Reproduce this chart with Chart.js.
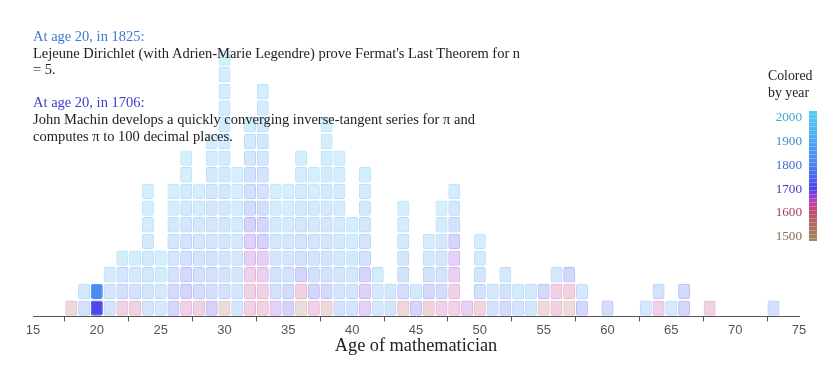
<!DOCTYPE html>
<html>
<head>
<meta charset="utf-8">
<script src="https://cdn.jsdelivr.net/npm/chart.js@4"></script>
<style>
  body { margin: 0; background: #fff; }
  #wrap { position: relative; width: 839px; height: 373px; }
  #notes {
    position: absolute; left: 33px; top: 28px;
    font: 14.5px "Liberation Serif", serif; line-height: 16.6px; color: #222;
    white-space: nowrap;
  }
  #legend-title {
    position: absolute; left: 768px; top: 67px;
    font: 13.8px "Liberation Serif", serif; line-height: 17px; color: #222;
  }
  .yr {
    position: absolute; right: 37px; width: 40px; text-align: right;
    font: 13.2px "Liberation Serif", serif; line-height: 16px;
  }
  #bar {
    position: absolute; left: 809px; top: 111px; width: 8px; height: 130px;
  }
</style>
</head>
<body>
<div id="wrap">
  <canvas id="myChart" width="839" height="373"></canvas>
  <div id="notes"></div>
  <div id="legend-title">Colored<br>by year</div>
  <div id="bar"></div>
</div>
<script>
// ages that have at least one result, and the years of those results (bottom to top)
const ages = [18, 19, 20, 21, 22, 23, 24, 25, 26, 27, 28, 29, 30, 31, 32, 33, 34, 35, 36, 37, 38,
  39, 40, 41, 42, 43, 44, 45, 46, 47, 48, 49, 50, 51, 52, 53, 54, 55, 56, 57, 58, 60, 63, 64, 65,
  66, 68, 73];
const yearsByAge = [
  [1572],
  [1812, 1898],
  [1706, 1825],
  [1822, 1848, 1921],
  [1628, 1786, 1852, 1934],
  [1619, 1817, 1893, 1931],
  [1829, 1847, 1862, 1881, 1905, 1928, 1951, 1985],
  [1884, 1893, 1912, 1944],
  [1731, 1762, 1818, 1839, 1864, 1902, 1936, 1967],
  [1641, 1718, 1742, 1791, 1832, 1858, 1883, 1912, 1945, 1978],
  [1622, 1771, 1799, 1833, 1868, 1897, 1931, 1962],
  [1697, 1788, 1794, 1819, 1838, 1849, 1862, 1877, 1908, 1939, 1971],
  [1541, 1806, 1822, 1835, 1841, 1856, 1867, 1873, 1888, 1894, 1905, 1912, 1927, 1938, 1955, 1978],
  [1851, 1868, 1879, 1886, 1901, 1915, 1933, 1952, 1981],
  [1617, 1629, 1643, 1662, 1678, 1712, 1758, 1796, 1823, 1854, 1889, 1937],
  [1612, 1632, 1651, 1663, 1704, 1728, 1786, 1811, 1836, 1859, 1874, 1899, 1926, 1962],
  [1668, 1797, 1826, 1848, 1871, 1903, 1938, 1969],
  [1709, 1759, 1815, 1842, 1873, 1909, 1944, 1976],
  [1539, 1621, 1719, 1797, 1828, 1852, 1878, 1906, 1934, 1968],
  [1638, 1722, 1803, 1829, 1855, 1881, 1912, 1947, 1983],
  [1561, 1748, 1802, 1821, 1846, 1866, 1884, 1898, 1915, 1932, 1955, 1981],
  [1818, 1834, 1853, 1869, 1885, 1902, 1919, 1941, 1962, 1987],
  [1831, 1847, 1872, 1903, 1929, 1965],
  [1668, 1681, 1723, 1809, 1836, 1862, 1894, 1931, 1968],
  [1872, 1881, 1908],
  [1834, 1857],
  [1583, 1776, 1812, 1851, 1887, 1926, 1963],
  [1721, 1897],
  [1592, 1741, 1803, 1887, 1942],
  [1641, 1768, 1813, 1846, 1901, 1934, 1972],
  [1618, 1642, 1659, 1671, 1719, 1823, 1868, 1931],
  [1661],
  [1588, 1801, 1849, 1912, 1954],
  [1822, 1881],
  [1761, 1819, 1903],
  [1829, 1898],
  [1852, 1889],
  [1553, 1742],
  [1622, 1634, 1902],
  [1541, 1612, 1731],
  [1739, 1884],
  [1762],
  [1893],
  [1629, 1821],
  [1901],
  [1719, 1752],
  [1621],
  [1801]
];

// highlighted results (age 20)
const highlightAge = 20;
const highlightYears = [1825, 1706];
const highlightTexts = [
  "Lejeune Dirichlet (with Adrien-Marie Legendre) prove Fermat's Last Theorem for n<br>= 5.",
  "John Machin develops a quickly converging inverse-tangent series for π and<br>computes π to 100 decimal places."
];

const xTicks = [15, 20, 25, 30, 35, 40, 45, 50, 55, 60, 65, 70, 75];
const legendYears = [2000, 1900, 1800, 1700, 1600, 1500];

// year -> colour scale
const stopYears = [1480, 1500, 1550, 1600, 1640, 1670, 1700, 1750, 1800, 1850, 1900, 1950, 2000, 2030];
const stopColors = ["#a6865c", "#a3805c", "#b06a5e", "#c24870", "#c040a6", "#8a40dc", "#4a44ea",
  "#4a64f0", "#4a82f2", "#4a96f2", "#4aa8f2", "#4cb8f2", "#50c6f4", "#52ccf4"];

function hexToRgb(h) {
  return [parseInt(h.slice(1, 3), 16), parseInt(h.slice(3, 5), 16), parseInt(h.slice(5, 7), 16)];
}

function yearColor(year, alpha) {
  let i = 0;
  while (i < stopYears.length - 2 && year > stopYears[i + 1]) i++;
  const t = Math.max(0, Math.min(1, (year - stopYears[i]) / (stopYears[i + 1] - stopYears[i])));
  const a = hexToRgb(stopColors[i]);
  const b = hexToRgb(stopColors[i + 1]);
  const c = a.map((v, j) => Math.round(v + (b[j] - v) * t));
  return `rgba(${c[0]}, ${c[1]}, ${c[2]}, ${alpha})`;
}

// text colour: same hue, a little darker (like the legend labels)
function textColor(year) {
  return yearColor(year, 1).replace(/rgba\((\d+), (\d+), (\d+), 1\)/, (m, r, g, b) =>
    `rgb(${Math.round(r * 0.85)}, ${Math.round(g * 0.85)}, ${Math.round(b * 0.85)})`);
}

function isHighlight(cell) {
  return cell.x === highlightAge && highlightYears.includes(cell.year);
}

// one floating bar per result, stacked by hand inside its age column
const cells = [];
ages.forEach((age, i) => {
  yearsByAge[i].forEach((year, k) => {
    cells.push({ x: age, y: [k + 0.04, k + 0.96], year: year });
  });
});

// annotation texts
const notes = document.getElementById("notes");
notes.innerHTML = highlightYears
  .map((yr, i) =>
    `<span style="color:${textColor(yr)}">At age ${highlightAge}, in ${yr}:</span><br>${highlightTexts[i]}`)
  .join("<br><br>");

// colour legend
const wrap = document.getElementById("wrap");
const pxPerYear = 0.2384;
legendYears.forEach((yr) => {
  const d = document.createElement("div");
  d.className = "yr";
  d.textContent = yr;
  d.style.color = textColor(yr);
  d.style.top = (117 + (2000 - yr) * pxPerYear - 8) + "px";
  wrap.appendChild(d);
});
const barTopYear = 2000 + 6 / pxPerYear;
const barBottomYear = barTopYear - 130 / pxPerYear;
const gradStops = [];
for (let i = stopYears.length - 1; i >= 0; i--) {
  const pct = ((barTopYear - stopYears[i]) / (barTopYear - barBottomYear)) * 100;
  gradStops.push(`${stopColors[i]} ${pct.toFixed(1)}%`);
}
document.getElementById("bar").style.background =
  "repeating-linear-gradient(to bottom, rgba(255,255,255,0) 0px, rgba(255,255,255,0) 3px, rgba(255,255,255,0.25) 3px, rgba(255,255,255,0.25) 4px), " +
  `linear-gradient(to bottom, ${gradStops.join(", ")})`;

const config = {
  type: "bar",
  data: {
    datasets: [
      {
        data: cells,
        backgroundColor: (ctx) => isHighlight(ctx.raw) ? yearColor(ctx.raw.year, 1) : yearColor(ctx.raw.year, 0.24),
        borderColor: (ctx) => isHighlight(ctx.raw) ? yearColor(ctx.raw.year, 1) : yearColor(ctx.raw.year, 0.4),
        borderWidth: 1,
        borderRadius: 2,
        borderSkipped: false,
        barThickness: 12,
        inflateAmount: 0,
      },
    ],
  },
  options: {
    responsive: false,
    animation: false,
    layout: {
      padding: { left: 33, right: 40, top: 33, bottom: 5 },
    },
    plugins: {
      legend: { display: false },
      tooltip: { enabled: false },
    },
    scales: {
      x: {
        type: "linear",
        min: xTicks[0],
        max: xTicks[xTicks.length - 1],
        offset: false,
        afterBuildTicks: (axis) => {
          axis.ticks = xTicks.map((v) => ({ value: v }));
        },
        ticks: {
          color: "#555",
          padding: 1,
          font: { family: "Liberation Sans", size: 13 },
        },
        grid: {
          drawOnChartArea: false,
          tickLength: 5,
          color: "#555",
        },
        border: { color: "#555" },
        title: {
          display: true,
          text: "Age of mathematician",
          color: "#222",
          font: { family: "Liberation Serif", size: 18.3 },
          padding: { top: -4, bottom: 11 },
        },
      },
      y: {
        display: false,
        min: 0,
        max: 17,
      },
    },
  },
};

new Chart(document.getElementById("myChart").getContext("2d"), config);
</script>
</body>
</html>
